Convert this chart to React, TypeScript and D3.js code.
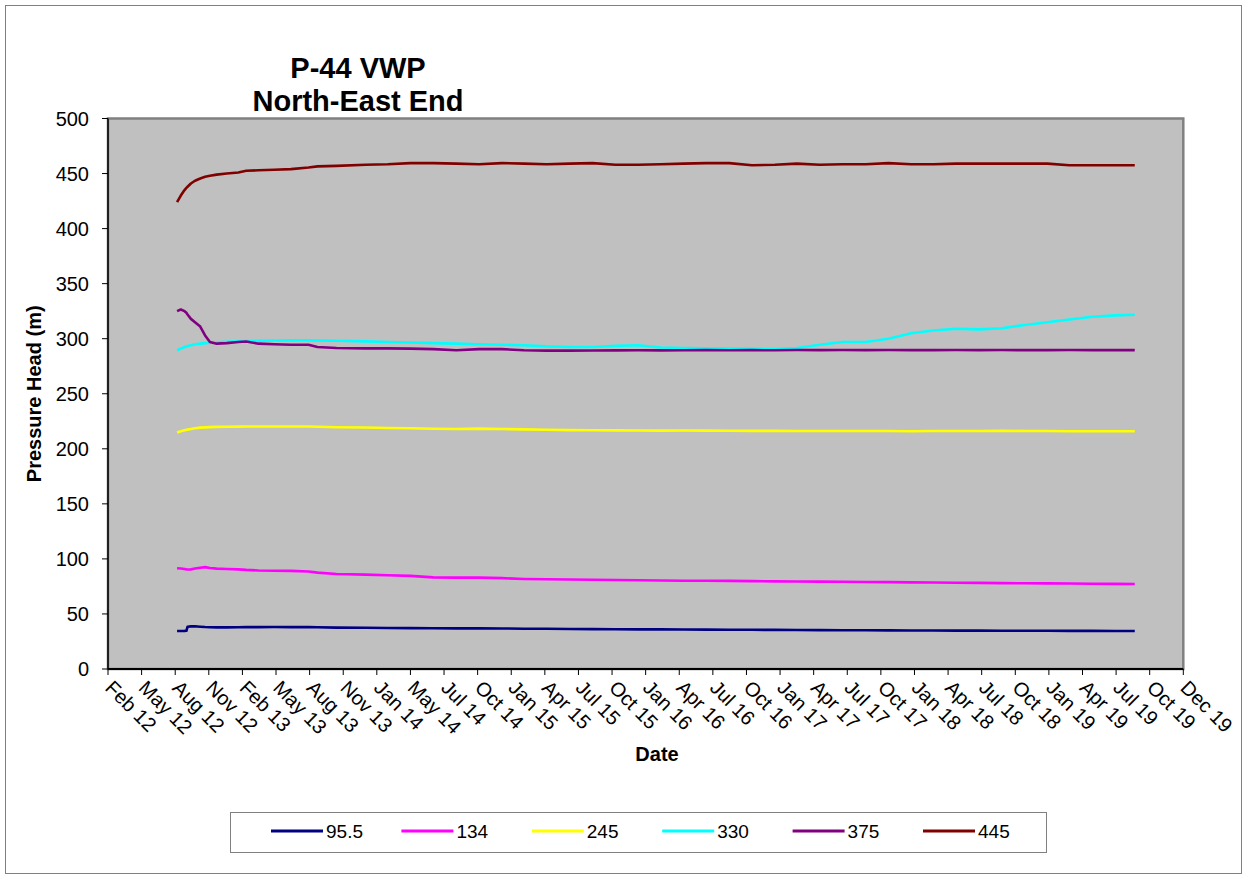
import * as d3 from "d3";

// shared sample dates for every sensor
const dates = [
  "2012-08-14", "2012-08-24", "2012-09-03", "2012-09-08", "2012-09-11", "2012-09-20",
  "2012-10-01", "2012-10-15", "2012-10-28", "2012-11-10", "2012-11-28", "2012-12-25",
  "2013-01-25", "2013-02-15", "2013-03-20", "2013-05-01", "2013-06-15", "2013-08-01",
  "2013-08-25", "2013-10-15", "2014-01-01", "2014-03-01", "2014-05-01", "2014-07-01",
  "2014-09-01", "2014-11-01", "2015-01-01", "2015-03-01", "2015-05-01", "2015-07-01",
  "2015-09-01", "2015-11-01", "2016-01-01", "2016-03-01", "2016-05-01", "2016-07-01",
  "2016-09-01", "2016-11-01", "2017-01-01", "2017-03-01", "2017-05-01", "2017-07-01",
  "2017-09-01", "2017-11-01", "2018-01-01", "2018-03-01", "2018-05-01", "2018-07-01",
  "2018-09-01", "2018-11-01", "2019-01-01", "2019-03-01", "2019-05-01", "2019-07-01",
  "2019-08-23",
];

const head95 = [
  34.5, 34.5, 34.6, 34.7, 38.3, 38.7, 38.8, 38.4, 38.1, 37.9, 37.8, 37.8,
  37.9, 38.0, 38.0, 38.1, 38.0, 38.0, 37.9, 37.6, 37.4, 37.2, 37.1, 37.0,
  36.9, 36.9, 36.8, 36.6, 36.5, 36.3, 36.2, 36.1, 36.0, 36.0, 35.9, 35.8,
  35.7, 35.6, 35.5, 35.4, 35.3, 35.2, 35.2, 35.1, 35.0, 35.0, 34.9, 34.9,
  34.8, 34.7, 34.7, 34.6, 34.6, 34.5, 34.5,
];
const head134 = [
  91.5, 91.3, 90.8, 90.5, 90.4, 90.5, 91.2, 92.0, 92.5, 91.8, 91.2, 90.8,
  90.5, 90.0, 89.5, 89.3, 89.1, 88.5, 87.5, 86.3, 85.7, 85.2, 84.6, 83.2,
  83.0, 83.0, 82.5, 81.8, 81.5, 81.3, 81.0, 80.8, 80.6, 80.4, 80.2, 80.1,
  80.0, 79.8, 79.6, 79.5, 79.4, 79.2, 79.0, 78.9, 78.7, 78.5, 78.3, 78.2,
  78.0, 77.9, 77.8, 77.6, 77.4, 77.3, 77.2,
];
const head245 = [
  214.8, 216.0, 216.8, 217.2, 217.4, 218.0, 218.6, 219.2, 219.5, 219.7, 219.9, 220.0,
  220.1, 220.2, 220.3, 220.3, 220.3, 220.2, 220.0, 219.6, 219.3, 218.9, 218.6, 218.2,
  218.0, 218.3, 218.0, 217.6, 217.3, 217.0, 216.8, 216.7, 216.6, 216.5, 216.6, 216.5,
  216.4, 216.3, 216.3, 216.2, 216.2, 216.2, 216.1, 216.1, 216.0, 216.1, 216.2, 216.2,
  216.3, 216.2, 216.1, 216.0, 216.0, 216.0, 216.0,
];
const head330 = [
  289.5, 291.0, 292.5, 293.0, 293.3, 294.0, 295.0, 295.5, 296.0, 296.3, 296.8, 297.2,
  297.6, 297.8, 298.0, 298.3, 298.5, 298.5, 298.4, 298.2, 297.6, 297.0, 296.5, 296.0,
  295.5, 295.0, 294.5, 294.0, 293.0, 292.5, 292.5, 293.5, 294.0, 292.0, 291.5, 291.2,
  291.0, 290.8, 290.5, 291.5, 294.5, 297.0, 297.0, 300.0, 305.0, 307.5, 309.0, 308.5,
  309.5, 312.5, 315.0, 317.5, 320.0, 321.2, 321.8,
];
const head375 = [
  325.0, 326.5, 325.0, 323.5, 322.0, 318.0, 315.0, 311.0, 303.0, 297.0, 295.5, 296.0,
  297.0, 297.5, 295.5, 295.0, 294.5, 294.5, 292.5, 291.5, 291.2, 291.2, 291.0, 290.5,
  289.5, 290.5, 290.5, 289.5, 289.2, 289.2, 289.3, 289.4, 289.5, 289.4, 289.5, 289.6,
  289.5, 289.6, 289.5, 289.7, 289.6, 289.7, 289.6, 289.7, 289.6, 289.6, 289.7, 289.6,
  289.7, 289.6, 289.6, 289.7, 289.6, 289.6, 289.6,
];
const head445 = [
  424.0, 430.0, 435.0, 437.0, 438.0, 441.0, 443.5, 445.5, 447.0, 448.0, 449.0, 450.0,
  451.0, 452.5, 453.0, 453.5, 454.0, 455.5, 456.5, 457.0, 458.0, 458.5, 459.5, 459.5,
  459.0, 458.5, 459.5, 459.0, 458.5, 459.0, 459.5, 458.0, 458.0, 458.5, 459.0, 459.5,
  459.5, 457.5, 458.0, 459.0, 458.0, 458.5, 458.5, 459.5, 458.5, 458.5, 459.0, 459.0,
  459.0, 459.0, 459.0, 457.5, 457.5, 457.5, 457.5,
];

const seriesNames = ["95.5", "134", "245", "330", "375", "445"];
const seriesValues = [head95, head134, head245, head330, head375, head445];
const seriesColors = ["#000080", "#FF00FF", "#FFFF00", "#00FFFF", "#800080", "#800000"];

const yTicks = [0, 50, 100, 150, 200, 250, 300, 350, 400, 450, 500];
const xTickLabels = [
  "Feb 12", "May 12", "Aug 12", "Nov 12", "Feb 13", "May 13", "Aug 13", "Nov 13",
  "Jan 14", "May 14", "Jul 14", "Oct 14", "Jan 15", "Apr 15", "Jul 15", "Oct 15",
  "Jan 16", "Apr 16", "Jul 16", "Oct 16", "Jan 17", "Apr 17", "Jul 17", "Oct 17",
  "Jan 18", "Apr 18", "Jul 18", "Oct 18", "Jan 19", "Apr 19", "Jul 19", "Oct 19",
  "Dec 19",
];
const axisStart = "2012-02-11";
const tickStepDays = 90;

const FONT = "'Liberation Sans', Arial, sans-serif";

export default function App() {
  const width = 1247;
  const height = 879;
  const left = 108;
  const right = 1183.3;
  const top = 118.5;
  const bottom = 669;

  const parse = d3.timeParse("%Y-%m-%d");
  const start = parse(axisStart)!;
  const tickDates = xTickLabels.map((_, i) => d3.timeDay.offset(start, i * tickStepDays));

  const x = d3
    .scaleTime()
    .domain([start, tickDates[tickDates.length - 1]])
    .range([left, right]);
  const y = d3.scaleLinear().domain([0, 500]).range([bottom, top]);

  const parsedDates = dates.map((d) => parse(d)!);
  const line = d3
    .line<number>()
    .x((_, i) => x(parsedDates[i]))
    .y((v) => y(v));

  const legendX0 = 271;
  const legendStep = 130.4;
  const legendY = 831;

  return (
    <svg
      width={width}
      height={height}
      style={{ position: "absolute", left: 0, top: 0, display: "block", background: "#fff" }}
      fontFamily={FONT}
    >
      {/* chart frame */}
      <rect x={5.5} y={5.5} width={1236} height={868} fill="#fff" stroke="#808080" strokeWidth={1} />

      {/* title */}
      <g fontWeight="bold" fontSize={29} textAnchor="middle" fill="#000">
        <text x={358} y={78}>P-44 VWP</text>
        <text x={358} y={111}>North-East End</text>
      </g>

      {/* plot area */}
      <rect
        x={left}
        y={top}
        width={right - left}
        height={bottom - top}
        fill="#C0C0C0"
        stroke="#808080"
        strokeWidth={2.5}
      />

      {/* y axis */}
      <line x1={left} x2={left} y1={top} y2={bottom} stroke="#000" strokeWidth={1.5} />
      {yTicks.map((t) => (
        <g key={t}>
          <line x1={left - 6} x2={left} y1={y(t)} y2={y(t)} stroke="#000" strokeWidth={1} />
          <text x={left - 19} y={y(t) + 7} fontSize={20} textAnchor="end">
            {t}
          </text>
        </g>
      ))}

      {/* x axis */}
      <line x1={left} x2={right} y1={bottom} y2={bottom} stroke="#000" strokeWidth={2} />
      {tickDates.map((d, i) => {
        const tx = x(d);
        return (
          <g key={i}>
            <line x1={tx} x2={tx} y1={bottom} y2={bottom + 6} stroke="#000" strokeWidth={1} />
            <text
              transform={`translate(${tx - 4},${bottom + 20}) rotate(45)`}
              fontSize={20}
              textAnchor="start"
            >
              {xTickLabels[i]}
            </text>
          </g>
        );
      })}

      {/* axis titles */}
      <text x={657} y={761} fontSize={20} fontWeight="bold" textAnchor="middle">
        Date
      </text>
      <text
        transform={`translate(41,${(top + bottom) / 2}) rotate(-90)`}
        fontSize={20}
        fontWeight="bold"
        textAnchor="middle"
      >
        Pressure Head (m)
      </text>

      {/* series */}
      <g fill="none" strokeWidth={2.6} strokeLinejoin="round">
        {seriesValues.map((vals, k) => (
          <path key={k} d={line(vals) || ""} stroke={seriesColors[k]} />
        ))}
      </g>

      {/* legend */}
      <rect x={230.5} y={812.5} width={816} height={40} fill="#fff" stroke="#808080" strokeWidth={1} />
      {seriesNames.map((name, k) => {
        const lx = legendX0 + k * legendStep;
        return (
          <g key={name}>
            <line x1={lx} x2={lx + 52} y1={legendY} y2={legendY} stroke={seriesColors[k]} strokeWidth={3} />
            <text x={lx + 55} y={legendY + 7} fontSize={19}>
              {name}
            </text>
          </g>
        );
      })}
    </svg>
  );
}
